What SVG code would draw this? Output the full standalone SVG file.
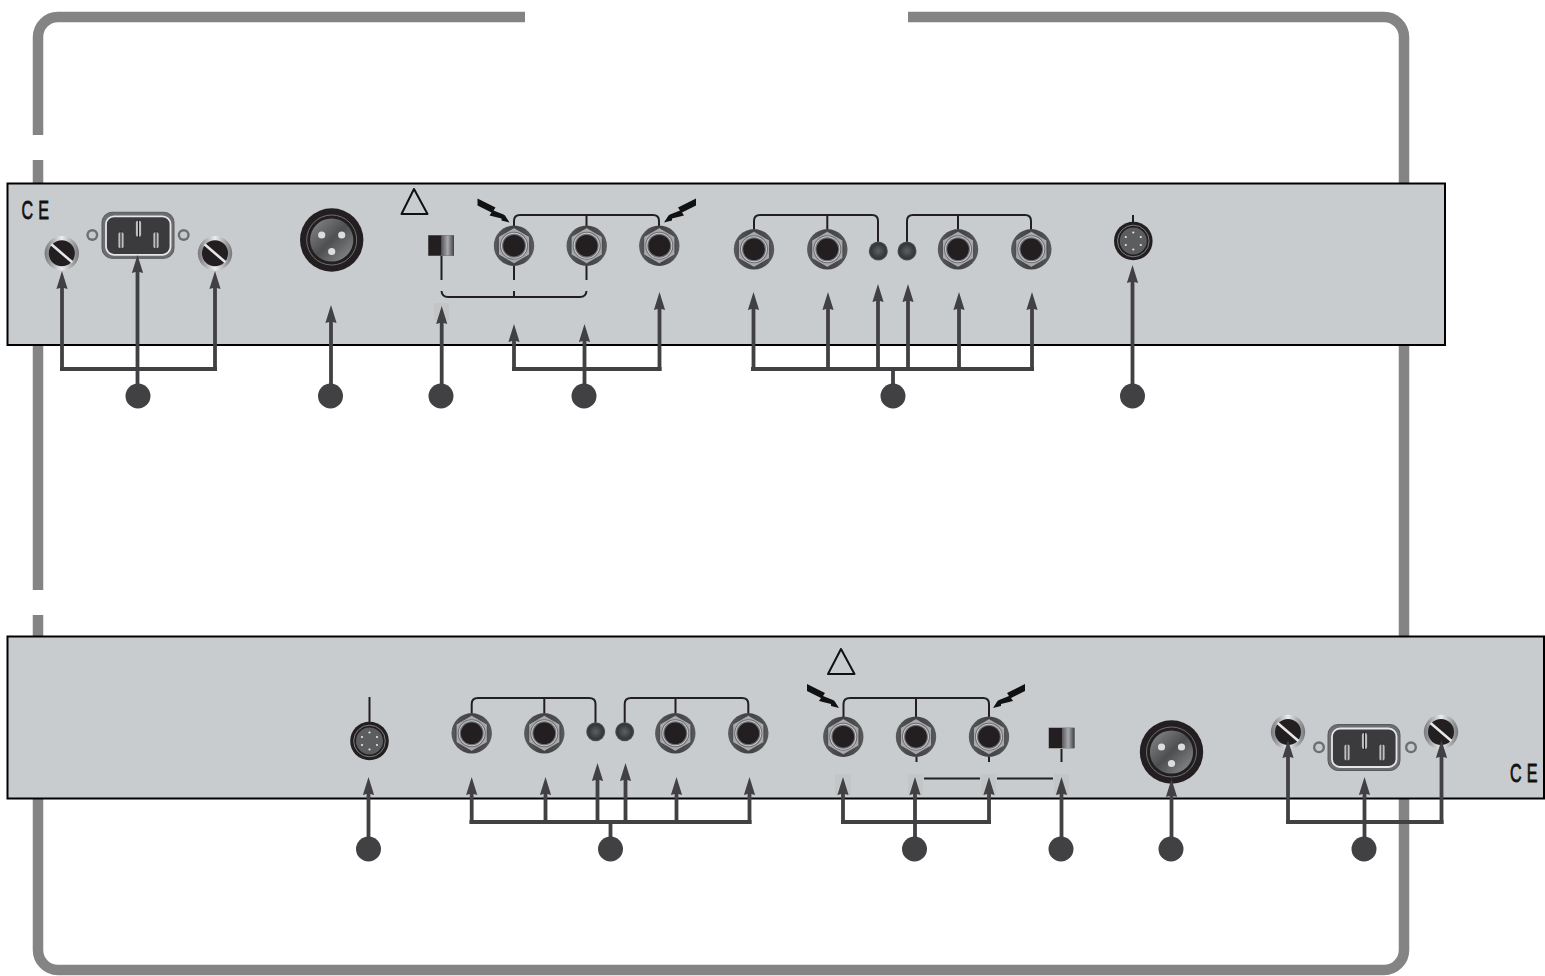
<svg xmlns="http://www.w3.org/2000/svg" width="1545" height="976" viewBox="0 0 1545 976">
<style>
.panel{fill:#c9cccf;stroke:#000;stroke-width:2}
.frame{fill:none;stroke:#848484;stroke-width:10.5}
.thin{fill:none;stroke:#231f20;stroke-width:2}
.tri{fill:none;stroke:#111;stroke-width:2;stroke-linejoin:round}
.conn{fill:none;stroke:#414042;stroke-width:3.8}
.arr{fill:none;stroke:#414042;stroke-width:3.8;marker-end:url(#ah)}
.bub{fill:#414042}
.patch{fill:#c4c5c7}
.ce{font-family:"Liberation Sans",Arial,sans-serif;font-size:26px;fill:#111;stroke:#111;stroke-width:0.8}
</style>
<defs>
<marker id="ah" markerUnits="userSpaceOnUse" markerWidth="24" markerHeight="14" viewBox="0 -7 24 14" refX="6" refY="0" orient="auto"><path d="M0,-5.6 L18,0 L0,5.6 L1.5,0 Z" fill="#414042"/></marker>
<linearGradient id="gJack" x1="0" y1="0" x2="1" y2="0"><stop offset="0" stop-color="#58595b"/><stop offset="0.5" stop-color="#414042"/><stop offset="1" stop-color="#58595b"/></linearGradient>
<linearGradient id="gScrew" x1="0" y1="0" x2="1" y2="0"><stop offset="0" stop-color="#77787b"/><stop offset="0.5" stop-color="#eceded"/><stop offset="1" stop-color="#77787b"/></linearGradient>
<linearGradient id="gXlr" x1="0" y1="0" x2="1" y2="1"><stop offset="0" stop-color="#8a8b8d"/><stop offset="0.5" stop-color="#4e4f51"/><stop offset="1" stop-color="#909193"/></linearGradient>
<radialGradient id="gLed"><stop offset="0" stop-color="#5b6163"/><stop offset="0.8" stop-color="#333638"/><stop offset="1" stop-color="#555759"/></radialGradient>
<linearGradient id="gSw"><stop offset="0" stop-color="#58595b"/><stop offset="0.5" stop-color="#a7a9ac"/><stop offset="1" stop-color="#414042"/></linearGradient>
<g id="jack"><circle r="20.2" fill="url(#gJack)"/><path d="M0,-18 L15.6,-9 V9 L0,18 L-15.6,9 V-9 Z" fill="#a7a9ac" stroke="#414042" stroke-width="0.8"/><circle r="14" fill="#6d6e71"/><circle r="13" fill="#c9cccf"/><circle r="12" fill="#6d6e71"/><circle r="10.8" fill="#231f20"/></g>
<g id="led"><circle r="9.5" fill="url(#gLed)"/></g>
<g id="mini"><circle r="19.3" fill="#231f20"/><circle r="15.8" fill="none" stroke="#939598" stroke-width="0.8"/><circle r="13.5" fill="#5c5d5f"/><g fill="#e6e7e8"><circle cy="-8.5" r="1.1"/><circle cy="8.5" r="1.1"/><circle cx="-7.5" cy="-4" r="1.1"/><circle cx="7.5" cy="-4" r="1.1"/><circle cx="-7.5" cy="4" r="1.1"/><circle cx="7.5" cy="4" r="1.1"/></g></g>
<g id="xlr"><circle r="31.7" fill="#231f20"/><circle r="25" fill="none" stroke="#808285" stroke-width="0.8"/><circle r="21.6" fill="url(#gXlr)"/><g fill="#dcddde"><circle cx="-10" cy="-5" r="3.6"/><circle cx="10" cy="-5" r="3.6"/><circle cx="0" cy="11.5" r="3.6"/></g></g>
<g id="screw"><circle r="17.2" fill="url(#gScrew)"/><circle r="13" fill="#231f20"/><path d="M-10.5,-9 L10.5,9" stroke="#e6e7e8" stroke-width="2.6"/></g>
<g id="dot"><circle r="6" fill="#6d6e71"/><circle r="3.6" fill="#c6c8ca"/></g>
<g id="pin"><rect x="-2.6" y="-8" width="5.2" height="16" rx="2" fill="#bcbec0"/><path d="M0,-9 V9" stroke="#231f20" stroke-width="1.1"/></g>
<g id="iec"><rect x="-36" y="-23" width="72" height="46" rx="10" fill="#6d6e71" stroke="#58595b" stroke-width="1"/><rect x="-32" y="-19" width="64.5" height="38.5" rx="8" fill="#3b3b3d" stroke="#e6e7e8" stroke-width="1.8"/><use href="#pin" x="0.5" y="-6.5"/><use href="#pin" x="-17" y="5"/><use href="#pin" x="18" y="5"/></g>
<g id="sw"><rect x="-13.5" y="-10.5" width="26" height="21" fill="#77787b"/><rect x="-13" y="-10" width="13" height="20" fill="#231f20"/><rect x="0" y="-10" width="12.5" height="20" fill="url(#gSw)"/></g>
<path id="bolt" d="M-32,-24 L-14,-15 L-16,-12 L-6,-8 L-4.5,-7 L0,0 L-8,-2 L-8,-4 L-20,-7 L-18,-10 L-32,-17 Z" fill="#111"/>
</defs>

<g id="frame"><path class="frame" d="M525,17 H58 A20,20 0 0 0 38,37 V135 M38,160 V590 M38,615 V950 A20,20 0 0 0 58,970 H1384 A20,20 0 0 0 1404,950 V37 A20,20 0 0 0 1384,17 H908"/></g>

<g id="panel-top"><rect class="panel" x="7.5" y="183.5" width="1437.5" height="161.5"/></g>
<g id="panel-bottom"><rect class="panel" x="7.5" y="636.5" width="1536.5" height="162"/></g>

<g id="ce-top"><text class="ce" transform="translate(21.5,218.5) scale(0.62,1)" x="0 27">CE</text></g>
<g id="ce-bottom"><text class="ce" transform="translate(1510,781.5) scale(0.62,1)" x="0 27">CE</text></g>

<g id="marks">
<path class="tri" d="M414,189 L401.5,214 H427.5 Z"/>
<path class="tri" d="M841,649 L828,674 H854.5 Z"/>
<use href="#bolt" x="509.5" y="222.5"/>
<use href="#bolt" transform="translate(664,222.5) scale(-1,1)"/>
<use href="#bolt" x="839" y="708"/>
<use href="#bolt" transform="translate(993,708) scale(-1,1)"/>
<path class="thin" d="M514,227 V221 Q514,215 520,215 H653 Q659,215 659,221 V227 M586.5,215 V227"/>
<path class="thin" d="M441.5,256 V280 M514,266 V280 M586.5,266 V280 M441.5,291 Q442,297 448,297 H580 Q586,297 586.5,291 M514,291 V297"/>
<path class="thin" d="M754,229 V221 Q754,215 760,215 H872 Q878,215 878,221 V242 M827.3,215 V229 M907,242 V221 Q907,215 913,215 H1025 Q1031,215 1031,221 V229 M958,215 V229 M1133,215 V222"/>
<path class="thin" d="M471.7,713 V704 Q471.7,698 478,698 H589 Q595.5,698 595.5,704 V723 M544.3,698 V713 M624.7,723 V704 Q624.7,698 631,698 H742 Q748.3,698 748.3,704 V713 M675.5,698 V713 M369.5,697 V722"/>
<path class="thin" d="M843.5,717 V704 Q843.5,698 850,698 H983 Q989,698 989,704 V717 M916,698 V717"/>
<path class="thin" d="M916.5,757 V762 M989,757 V762 M1061.5,749 V762 M924,778.5 H980 M997,778.5 H1053"/>
<path class="patch" d="M835,774 h16 v21 h-16 Z M908,774 h15 v21 h-15 Z M981,774 h15 v21 h-15 Z M1054,774 h15 v21 h-15 Z M434,303 h15 v17 h-15 Z"/>
</g>

<g id="node-power-top"><use href="#iec" x="138" y="235.3"/><use href="#dot" x="92.3" y="235"/><use href="#dot" x="183.7" y="235"/><use href="#screw" x="61.8" y="253.3"/><use href="#screw" x="215" y="253.3"/></g>
<g id="node-xlr-top"><use href="#xlr" x="331.7" y="240"/></g>
<g id="node-switch-top"><use href="#sw" x="441.5" y="245.5"/></g>
<g id="node-jacks-a-top"><use href="#jack" x="514" y="245.7"/><use href="#jack" x="586.7" y="245.7"/><use href="#jack" x="659.3" y="245.7"/></g>
<g id="node-jacks-b-top"><use href="#jack" x="754" y="249.3"/><use href="#jack" x="827.3" y="249.3"/><use href="#led" x="878.3" y="251"/><use href="#led" x="907" y="251"/><use href="#jack" x="958" y="249.3"/><use href="#jack" x="1031.3" y="249.3"/></g>
<g id="node-mini-top"><use href="#mini" x="1133.3" y="241"/></g>

<g id="node-mini-bottom"><use href="#mini" x="369.5" y="741"/></g>
<g id="node-jacks-b-bottom"><use href="#jack" x="471.7" y="733.3"/><use href="#jack" x="544.3" y="733.3"/><use href="#led" x="595.7" y="731.7"/><use href="#led" x="624.7" y="731.7"/><use href="#jack" x="675.3" y="733.3"/><use href="#jack" x="748.3" y="733.3"/></g>
<g id="node-jacks-a-bottom"><use href="#jack" x="843.3" y="736.7"/><use href="#jack" x="916" y="736.7"/><use href="#jack" x="989" y="736.7"/></g>
<g id="node-switch-bottom"><use href="#sw" x="1062" y="738"/></g>
<g id="node-xlr-bottom"><use href="#xlr" x="1171.5" y="752"/></g>
<g id="node-power-bottom"><use href="#iec" x="1364" y="747.5"/><use href="#dot" x="1319" y="747.3"/><use href="#dot" x="1411" y="747.3"/><use href="#screw" x="1288" y="732"/><use href="#screw" x="1441" y="732"/></g>

<g id="connectors">
<path class="conn" d="M60,369 H217"/>
<path class="arr" d="M62,371 V283"/><path class="arr" d="M137.5,396 V267"/><path class="arr" d="M215,371 V283"/>
<path class="arr" d="M331,396 V317"/>
<path class="arr" d="M441.7,396 V318"/>
<path class="conn" d="M512,369 H661.5"/>
<path class="arr" d="M514,371 V336"/><path class="arr" d="M584.5,396 V336"/><path class="arr" d="M659.5,371 V304"/>
<path class="conn" d="M751,369 H1034"/>
<path class="arr" d="M753.5,371 V304"/><path class="arr" d="M828,371 V304"/><path class="arr" d="M878,371 V296"/><path class="arr" d="M908,371 V296"/><path class="arr" d="M959,371 V304"/><path class="arr" d="M1032,371 V304"/>
<path class="conn" d="M893,369 V396"/>
<path class="arr" d="M1132.5,396 V277"/>

<path class="arr" d="M368.5,849 V789"/>
<path class="conn" d="M469.5,822 H751.5"/>
<path class="arr" d="M471.7,824 V789"/><path class="arr" d="M545.5,824 V789"/><path class="arr" d="M597.5,824 V775"/><path class="arr" d="M625.5,824 V775"/><path class="arr" d="M676.5,824 V789"/><path class="arr" d="M749.5,824 V789"/>
<path class="conn" d="M610.5,822 V849"/>
<path class="conn" d="M841,822 H991"/>
<path class="arr" d="M843,824 V789"/><path class="arr" d="M915,849 V789"/><path class="arr" d="M989,824 V789"/>
<path class="arr" d="M1061.5,849 V789"/>
<path class="arr" d="M1171.5,849 V791"/>
<path class="conn" d="M1286,822 H1443.5"/>
<path class="arr" d="M1288,824 V752"/><path class="arr" d="M1364.5,849 V789"/><path class="arr" d="M1441.5,824 V752"/>
</g>

<g id="callouts">
<circle class="bub" cx="138" cy="396" r="12.5"/><circle class="bub" cx="330.5" cy="396" r="12.5"/><circle class="bub" cx="441" cy="396" r="12.5"/><circle class="bub" cx="584" cy="396" r="12.5"/><circle class="bub" cx="893" cy="396" r="12.5"/><circle class="bub" cx="1132.5" cy="396" r="12.5"/>
<circle class="bub" cx="368.5" cy="849" r="12.5"/><circle class="bub" cx="610.5" cy="849" r="12.5"/><circle class="bub" cx="914.5" cy="849" r="12.5"/><circle class="bub" cx="1061" cy="849" r="12.5"/><circle class="bub" cx="1171" cy="849" r="12.5"/><circle class="bub" cx="1364" cy="849" r="12.5"/>
</g>
</svg>
